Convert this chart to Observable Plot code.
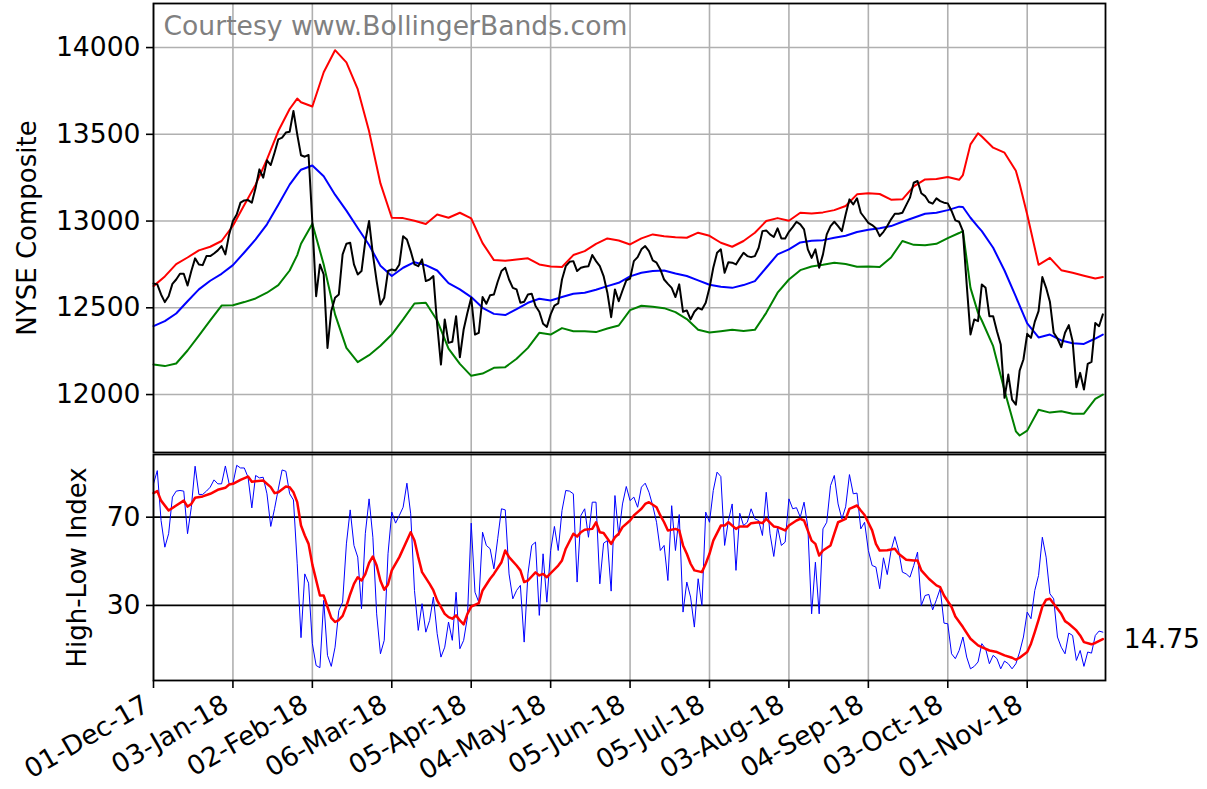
<!DOCTYPE html>
<html><head><meta charset="utf-8">
<script src="https://cdn.jsdelivr.net/npm/d3@7"></script>
<script src="https://cdn.jsdelivr.net/npm/@observablehq/plot@0.6"></script>
<style>
html,body{margin:0;padding:0;background:#fff;}
#chart{position:relative;width:1207px;height:789px;overflow:hidden;background:#fff;}
#top,#bottom{position:absolute;left:0;}
#top{top:0;}
#bottom{top:452px;}
svg{overflow:visible;}
</style></head><body>
<div id="chart"><div id="top"></div><div id="bottom"></div></div>
<script>
// NYSE Composite daily close (trading-day index 0 = 01-Dec-17)
const closeValues = [12640,12635,12577,12533,12567,12638,12663,12696,12696,12629,
12712,12785,12750,12746,12798,12798,12813,12831,12856,12808,
12923,13000,13038,13106,13119,13121,13106,13192,13298,13250,
13350,13323,13394,13471,13481,13510,13515,13635,13500,13379,
13371,13381,12992,12567,12750,12692,12269,12481,12558,12577,
12808,12869,12875,12750,12692,12712,12885,13000,12808,12654,
12519,12558,12712,12721,12715,12750,12913,12894,12827,12750,
12740,12779,12654,12663,12683,12404,12173,12433,12298,12304,
12452,12215,12375,12471,12558,12346,12356,12562,12523,12573,
12577,12650,12712,12731,12663,12615,12606,12529,12535,12577,
12581,12510,12477,12408,12390,12462,12513,12525,12663,12740,
12765,12769,12712,12731,12737,12740,12804,12769,12740,12683,
12587,12446,12606,12538,12600,12658,12669,12769,12792,12837,
12856,12827,12773,12760,12721,12663,12638,12615,12562,12635,
12477,12485,12433,12477,12500,12490,12529,12615,12731,12817,
12837,12702,12763,12760,12750,12785,12817,12798,12792,12798,
12846,12942,12946,12923,12908,12958,12900,12900,12938,12965,
12996,12981,12952,12837,12788,12837,12731,12808,12923,12971,
12996,12971,12942,13038,13125,13096,13131,13048,13019,12990,
12977,12958,12913,12938,12971,13010,13042,13042,13048,13092,
13135,13221,13231,13160,13144,13110,13100,13131,13115,13106,
13102,13058,13004,12996,12942,12635,12346,12433,12423,12635,
12615,12452,12452,12365,12289,11981,12115,11971,11942,12138,
12202,12350,12327,12419,12481,12677,12615,12535,12356,12323,
12273,12356,12400,12308,12042,12125,12029,12177,12188,12413,
12394,12462];

// Bollinger band readings (trading-day index, value)
const bandDays = [0,3,6,9,12,15,18,21,24,27,30,33,36,38,39,42,45,48,51,54,57,60,63,66,69,72,75,78,81,84,
87,90,93,96,99,102,105,108,111,114,117,120,123,126,129,132,135,138,141,144,147,150,153,156,159,162,165,168,
171,174,177,180,183,186,189,192,195,198,201,204,207,210,213,214,216,218,219,222,225,228,229,231,234,237,240,243,246,249,251];
const upperBand = [12625,12681,12752,12790,12831,12852,12885,12973,13092,13210,13356,13519,13646,13706,13685,
13660,13858,13985,13915,13760,13517,13217,13019,13017,13002,12983,13038,13019,13048,13015,
12873,12775,12771,12779,12785,12750,12738,12735,12804,12827,12869,12900,12888,12865,
12900,12923,12913,12906,12904,12933,12915,12875,12852,12885,12933,13000,13017,13002,
13048,13044,13050,13063,13087,13154,13160,13156,13123,13125,13200,13240,13242,13254,
13238,13265,13442,13506,13487,13423,13394,13290,13213,13038,12748,12788,12717,12702,12685,12669,12677];
const middleBand = [12394,12423,12467,12538,12606,12656,12696,12746,12819,12894,12981,13094,13210,13269,13296,
13320,13258,13152,13060,12960,12862,12742,12683,12731,12763,12746,12715,12642,12606,12562,
12500,12465,12458,12492,12529,12552,12542,12562,12581,12587,12604,12625,12644,12681,
12702,12712,12715,12698,12683,12658,12633,12621,12615,12631,12654,12731,12808,12837,
12877,12887,12890,12904,12915,12937,12950,12958,12971,12996,13019,13042,13048,13063,
13083,13081,13019,12967,12942,12846,12715,12564,12512,12410,12329,12346,12312,12296,12292,12323,12346];
const lowerBand = [12173,12164,12179,12254,12340,12427,12513,12515,12533,12554,12587,12631,12715,12804,12869,
12985,12750,12462,12269,12187,12227,12281,12346,12433,12525,12529,12427,12265,12177,12108,
12121,12154,12158,12206,12269,12356,12346,12383,12365,12365,12360,12381,12398,12487,
12512,12506,12498,12475,12435,12373,12358,12365,12373,12367,12373,12471,12587,12663,
12717,12738,12748,12760,12752,12737,12738,12735,12790,12885,12863,12860,12869,12902,
12931,12942,12615,12471,12427,12279,12023,11788,11764,11792,11912,11896,11904,11889,11890,11975,12000];

// High-Low Index daily
const hlIndex = [85.1,91.1,68.5,56.4,62.5,79.1,81.8,82.1,81.8,62.5,
74.5,93.1,80.3,80.3,81.8,83.6,86.9,85.1,85.1,93.2,
85.1,85.1,93.5,92.3,92.3,88.1,74.2,88.9,87.8,88.1,
80.6,65.8,73.8,82.8,91.4,90.8,80.6,77.8,48.9,15.4,
44.3,40.1,12.7,2.8,1.8,32.3,7.4,2.4,11.1,27.7,
31.5,57.9,73.3,57.2,51.9,28.5,62.5,78.3,60.9,26.2,
8.1,14.2,53.4,72.3,67.3,70.8,74.5,85.4,71.5,36.8,
18.7,30.8,17.9,23.2,33.8,17.2,6.6,11.1,22.5,14.2,
36.0,10.4,14.2,24.7,67.3,36.0,31.5,63.2,57.2,55.7,
46.6,60.2,73.8,73.3,44.3,33.0,36.8,39.1,13.4,44.3,
57.2,58.7,25.5,53.4,31.5,54.9,65.8,54.9,73.0,82.1,
81.8,80.6,40.6,70.8,73.8,60.9,76.8,76.8,39.8,58.2,
59.4,36.5,79.8,61.7,76.0,83.9,77.5,79.1,74.5,83.6,
85.4,81.3,75.2,67.7,54.9,57.2,41.3,75.2,54.9,71.2,
27.0,40.6,33.8,20.2,42.1,30.0,72.3,67.7,82.1,90.4,
88.4,57.2,68.5,76.0,45.9,71.8,66.2,67.7,73.8,69.2,
68.5,61.7,81.3,62.5,52.2,65.5,57.2,58.7,78.3,73.8,
74.3,70.0,76.8,65.5,26.2,49.6,26.2,64.7,67.7,84.3,
88.9,76.0,69.2,74.7,89.3,80.6,80.9,64.7,67.7,54.9,
48.1,47.4,37.6,51.6,44.0,54.9,61.2,54.9,45.1,44.3,
42.8,48.1,54.2,30.0,34.5,35.0,28.0,32.6,37.6,22.0,
21.7,8.1,5.9,9.6,15.7,6.6,1.3,2.4,4.4,12.7,
10.4,3.6,7.4,5.9,1.3,4.8,3.6,1.3,3.6,8.9,
15.7,27.0,24.0,36.8,43.6,60.9,51.9,35.3,33.0,15.7,
11.1,8.1,17.5,16.4,5.1,9.6,2.4,8.9,8.4,16.4,
18.4,17.9];

// 10-day average of the High-Low Index: [trading-day index, value] readings
const hlMAReadings = [[0,80.9],[1,81.8],[2,77.5],[4,73.0],[6,75.3],[8,77.5],[9,74.8],[10,76.0],[11,78.8],[13,79.4],
[15,80.6],[17,82.4],[19,83.3],[20,84.8],[21,85.1],[23,86.9],[25,88.4],[26,86.1],[27,86.3],[29,86.6],
[31,83.6],[32,80.9],[33,81.3],[35,83.9],[36,83.6],[37,81.3],[38,76.8],[39,66.2],[40,61.7],[41,57.9],
[42,48.5],[44,34.5],[45,34.5],[46,29.3],[47,24.4],[48,22.5],[49,23.4],[50,25.3],[51,29.7],[52,35.1],
[53,39.8],[54,42.8],[55,41.3],[56,44.2],[57,49.3],[58,52.2],[59,48.1],[60,41.2],[61,37.1],[62,39.5],
[63,45.9],[65,51.9],[67,59.4],[68,63.2],[69,59.4],[70,51.9],[71,45.1],[73,39.8],[74,36.8],[75,32.3],
[77,26.2],[78,24.7],[79,24.0],[80,25.5],[81,23.2],[82,21.4],[83,26.2],[84,29.5],[86,31.1],[87,36.8],
[89,42.1],[90,44.3],[92,49.6],[93,54.9],[94,51.9],[96,48.1],[97,45.9],[98,40.6],[99,41.3],[101,45.0],
[102,43.6],[103,44.3],[104,42.8],[105,44.6],[107,48.1],[108,50.4],[109,55.7],[111,62.5],[112,61.2],[113,63.2],
[114,64.3],[116,64.7],[117,67.7],[118,63.2],[119,62.8],[121,57.9],[122,60.9],[123,62.5],[124,65.5],[126,68.5],
[127,70.8],[129,73.8],[130,76.0],[131,76.8],[133,74.5],[134,70.8],[135,67.7],[136,64.0],[138,64.7],[139,64.0],
[140,57.2],[141,53.4],[142,48.9],[143,45.9],[145,45.1],[146,48.9],[147,53.4],[148,59.4],[150,66.2],[151,66.2],
[152,67.7],[154,64.7],[155,65.8],[157,65.8],[158,67.3],[160,67.7],[161,67.3],[162,69.2],[164,65.8],[165,65.5],
[167,64.0],[168,66.2],[170,68.5],[171,69.2],[172,68.5],[174,59.4],[175,57.9],[176,52.6],[177,54.9],[179,57.2],
[180,62.5],[181,67.7],[183,69.2],[184,73.8],[186,75.3],[187,73.0],[188,71.0],[190,64.0],[191,57.9],[192,54.9],
[194,55.0],[196,55.7],[197,53.4],[199,50.7],[201,50.4],[202,50.4],[203,45.9],[205,42.1],[207,39.1],[208,38.3],
[209,34.5],[211,29.3],[212,25.0],[214,20.2],[216,14.9],[218,11.9],[219,11.1],[221,9.6],[223,8.9],[225,7.4],
[227,6.3],[228,5.4],[229,6.3],[231,8.9],[232,12.7],[233,17.9],[234,23.5],[235,29.5],[236,32.6],[237,33.0],
[238,30.8],[240,26.2],[241,22.9],[242,21.7],[244,18.7],[245,16.4],[246,13.4],[248,12.4],[249,13.0],[251,14.75]];

const tickDays = [0,21,42,63,84,105,126,147,168,189,210,231];
const tickLabels = ["01-Dec-17","03-Jan-18","02-Feb-18","06-Mar-18","05-Apr-18","04-May-18","05-Jun-18","05-Jul-18","03-Aug-18","04-Sep-18","03-Oct-18","01-Nov-18"];
const priceTicks = [12000,12500,13000,13500,14000];
const hlTicks = [30,70];
const lastMALabel = "14.75";
const credit = "Courtesy www.BollingerBands.com";

const W = 1207;
const xDomain = [0, 251.7];
const FS = 26.6;
const LABEL_FS = 26;
const FONT = "DejaVu Sans, sans-serif";
const GRID = "#b0b0b0";

const pts = (days, vals) => vals.map((v, i) => ({day: days ? days[i] : i, v}));
const closeData = pts(null, closeValues);
const upperData = pts(bandDays, upperBand);
const middleData = pts(bandDays, middleBand);
const lowerData = pts(bandDays, lowerBand);
const hlData = pts(null, hlIndex);
const maData = hlMAReadings.map(([day, v]) => ({day, v}));
const tickData = tickDays.map((d, i) => ({day: d, label: tickLabels[i]}));

const topChart = Plot.plot({
  width: W, height: 455,
  marginLeft: 153, marginRight: 102, marginTop: 3, marginBottom: 3,
  style: {fontFamily: FONT, fontSize: FS + "px", background: "transparent", overflow: "visible"},
  x: {domain: xDomain, axis: null},
  y: {domain: [11666, 14254], axis: null},
  marks: [
    Plot.gridX(tickDays, {stroke: GRID, strokeOpacity: 1, strokeWidth: 1.6}),
    Plot.gridY(priceTicks, {stroke: GRID, strokeOpacity: 1, strokeWidth: 1.6}),
    Plot.axisY(priceTicks, {anchor: "left", tickSize: 7, tickPadding: 6, strokeWidth: 1.6, fontSize: FS, fill: "black", tickFormat: d => String(d), label: null}),
    Plot.line(upperData, {x: "day", y: "v", stroke: "red", strokeWidth: 2}),
    Plot.line(lowerData, {x: "day", y: "v", stroke: "green", strokeWidth: 2}),
    Plot.line(middleData, {x: "day", y: "v", stroke: "blue", strokeWidth: 2}),
    Plot.line(closeData, {x: "day", y: "v", stroke: "black", strokeWidth: 2}),
    Plot.text([credit], {frameAnchor: "top-left", dx: 10, dy: 13, lineAnchor: "top", textAnchor: "start", fill: "#808080", fontSize: 26.6}),
    Plot.text(["NYSE Composite"], {frameAnchor: "left", dx: -126, rotate: -90, textAnchor: "middle", lineAnchor: "middle", fontSize: LABEL_FS, fill: "black"}),
    Plot.frame({stroke: "black", strokeWidth: 1.8})
  ]
});
document.getElementById("top").append(topChart);

const bottomChart = Plot.plot({
  width: W, height: 337,
  marginLeft: 153, marginRight: 102, marginTop: 2, marginBottom: 109,
  style: {fontFamily: FONT, fontSize: FS + "px", background: "transparent", overflow: "visible"},
  x: {domain: xDomain, axis: null},
  y: {domain: [-4, 98.4], axis: null},
  marks: [
    Plot.gridX(tickDays, {stroke: GRID, strokeOpacity: 1, strokeWidth: 1.6}),
    Plot.ruleY(hlTicks, {stroke: "black", strokeWidth: 1.8}),
    Plot.axisY(hlTicks, {anchor: "left", tickSize: 7, tickPadding: 6, strokeWidth: 1.6, fontSize: FS, fill: "black", label: null}),
    Plot.axisX(tickDays, {anchor: "bottom", tickSize: 8, strokeWidth: 1.6, text: null, label: null}),
    Plot.text(tickData, {x: "day", text: "label", frameAnchor: "bottom", dy: 13, dx: -12, rotate: -30, textAnchor: "end", lineAnchor: "top", fontSize: FS, fill: "black"}),
    Plot.line(hlData, {x: "day", y: "v", stroke: "blue", strokeWidth: 1}),
    Plot.line(maData, {x: "day", y: "v", stroke: "red", strokeWidth: 2.5}),
    Plot.text([lastMALabel], {x: 251, y: 14.75, dx: 21, textAnchor: "start", fontSize: FS, fill: "black"}),
    Plot.text(["High-Low Index"], {frameAnchor: "left", dx: -76, rotate: -90, textAnchor: "middle", lineAnchor: "middle", fontSize: LABEL_FS, fill: "black"}),
    Plot.frame({stroke: "black", strokeWidth: 1.8})
  ]
});
document.getElementById("bottom").append(bottomChart);
</script>
</body></html>
